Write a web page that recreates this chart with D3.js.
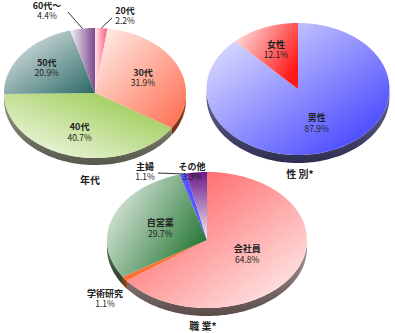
<!DOCTYPE html>
<html lang="ja">
<head>
<meta charset="UTF-8" />
<title>Pie charts</title>
<script src="https://d3js.org/d3.v7.min.js"></script>
<style>
  body { margin: 0; background: #fff; }
  text { font-family: "Noto Sans CJK JP", "DejaVu Sans", sans-serif; fill: #222; }
  .lbl { font-size: 9px; font-weight: bold; }
  .pct { font-size: 8.5px; }
  .ttl { font-size: 10px; font-weight: bold; }
</style>
</head>
<body>
<div id="chart"></div>
<script>
// data
const ageLabels = ["20代", "30代", "40代", "50代", "60代～"];
const ageValues = [2.2, 31.9, 40.7, 20.9, 4.4];
const genderLabels = ["男性", "女性"];
const genderValues = [87.9, 12.1];
const jobLabels = ["会社員", "学術研究", "自営業", "主婦", "その他"];
const jobValues = [64.8, 1.1, 29.7, 1.1, 3.3];

const W = 395, H = 333;
const svg = d3.select("#chart").append("svg").attr("width", W).attr("height", H);
const defs = svg.append("defs");
let gid = 0;

function gradient(c0, c1, x1, y1, x2, y2) {
  const id = "g" + (gid++);
  const g = defs.append("linearGradient").attr("id", id)
    .attr("x1", x1).attr("y1", y1).attr("x2", x2).attr("y2", y2);
  g.append("stop").attr("offset", "0%").attr("stop-color", c0);
  g.append("stop").attr("offset", "100%").attr("stop-color", c1);
  return "url(#" + id + ")";
}

// o: cx, cy, rx, ry, depth, fills, sides, labelR, outside [x, y, lineX, lineY]
function drawPie(labels, values, o) {
  const g = svg.append("g");
  const arcs = d3.pie().sort(null).startAngle(0).endAngle(2 * Math.PI)(values);
  const pt = (a, r, dy) => [o.cx + o.rx * r * Math.sin(a), o.cy - o.ry * r * Math.cos(a) + (dy || 0)];
  const arcPts = (a0, a1, dy) => {
    const n = Math.max(2, Math.ceil((a1 - a0) / 0.02));
    return d3.range(n + 1).map(i => pt(a0 + (a1 - a0) * i / n, 1, dy));
  };
  const line = d3.line();

  // side walls (front half only)
  arcs.forEach((d, i) => {
    const lo = Math.max(d.startAngle, Math.PI / 2);
    const hi = Math.min(d.endAngle, 3 * Math.PI / 2);
    if (lo >= hi) return;
    const pts = arcPts(lo, hi, 0).concat(arcPts(lo, hi, o.depth).reverse());
    const s = o.sides[i];
    g.append("path").attr("d", line(pts) + "Z")
      .attr("fill", gradient(s[0], s[1], 0, 0, 0, 1));
  });

  // top faces
  arcs.forEach((d, i) => {
    const pts = [[o.cx, o.cy]].concat(arcPts(d.startAngle, d.endAngle, 0));
    const f = o.fills[i];
    g.append("path").attr("d", line(pts) + "Z")
      .attr("fill", gradient(f[0], f[1], f[2], f[3], f[4], f[5]));
  });

  // labels
  arcs.forEach((d, i) => {
    const mid = (d.startAngle + d.endAngle) / 2;
    let p;
    const out = o.outside && o.outside[i];
    if (out) {
      p = [out[0], out[1]];
      if (out.length > 2) {
        const e = pt(mid, 1.0);
        g.append("line").attr("x1", out[2]).attr("y1", out[3])
          .attr("x2", e[0]).attr("y2", e[1])
          .attr("stroke", "#333").attr("stroke-width", 1);
      }
    } else {
      p = pt(mid, o.labelR[i]);
    }
    g.append("text").attr("class", "lbl").attr("x", p[0]).attr("y", p[1] - 1.5)
      .attr("text-anchor", "middle").text(labels[i]);
    g.append("text").attr("class", "pct").attr("x", p[0]).attr("y", p[1] + 9)
      .attr("text-anchor", "middle").text(d3.format(".1f")(values[i]) + "%");
  });

  g.append("text").attr("class", "ttl").attr("x", o.title[1]).attr("y", o.title[2])
    .attr("text-anchor", "middle").text(o.title[0]);
}

drawPie(ageLabels, ageValues, {
  cx: 95, cy: 93, rx: 91, ry: 65, depth: 7,
  fills: [
    ["#ffe4ea", "#ff5a78", 0, 0, 1, 0],
    ["#fff2ee", "#ff6a4c", 0, 0, 1, 1],
    ["#8cc43c", "#fafcf2", 1, 0, 0, 1],
    ["#eef2f2", "#2a6866", 0, 0, 1, 1],
    ["#f6f0f8", "#7a4a8c", 0, 0, 1, 0]
  ],
  sides: [
    ["#b04a40", "#6a2a20"], ["#c0502a", "#6a2a10"], ["#9a9e8e", "#55584a"],
    ["#6a807e", "#3a4a48"], ["#8a7a90", "#4a3a50"]
  ],
  labelR: [0.6, 0.58, 0.62, 0.66, 0.6],
  outside: [[125, 15, 112, 18], null, null, null, [47, 10, 68, 12]],
  title: ["年代", 90, 184]
});

drawPie(genderLabels, genderValues, {
  cx: 298, cy: 89, rx: 91.5, ry: 66, depth: 8,
  fills: [
    ["#eeeeff", "#3434ff", 0, 0, 1, 1],
    ["#ffeeee", "#ff1a1a", 0, 0, 1, 0.6]
  ],
  sides: [["#6a6a9a", "#2e2e50"], ["#a05050", "#502020"]],
  labelR: [0.55, 0.65],
  title: ["性 別*", 300, 178]
});

drawPie(jobLabels, jobValues, {
  cx: 207, cy: 240, rx: 100, ry: 68, depth: 8,
  fills: [
    ["#ff4a4a", "#fff6f6", 0, 0, 1, 1],
    ["#ff5a1a", "#ff8a50", 0, 0, 1, 1],
    ["#f6f8f4", "#2a7a3a", 0, 0, 1, 0.6],
    ["#2a2aff", "#8a8aff", 1, 0, 0, 1],
    ["#6a1a8a", "#f6f0f8", 0, 0, 0, 1]
  ],
  sides: [
    ["#b0a0a0", "#5a4a4a"], ["#c04a10", "#6a2a00"], ["#5a7a5a", "#2a3a2a"],
    ["#3a3a9a", "#1a1a4a"], ["#6a4a7a", "#3a2a4a"]
  ],
  labelR: [0.45, 0.5, 0.5, 0.5, 0.5],
  outside: [null, [105, 298], null, [145, 171, 158, 173], [192, 171]],
  title: ["職 業*", 203, 330]
});
</script>
</body>
</html>
